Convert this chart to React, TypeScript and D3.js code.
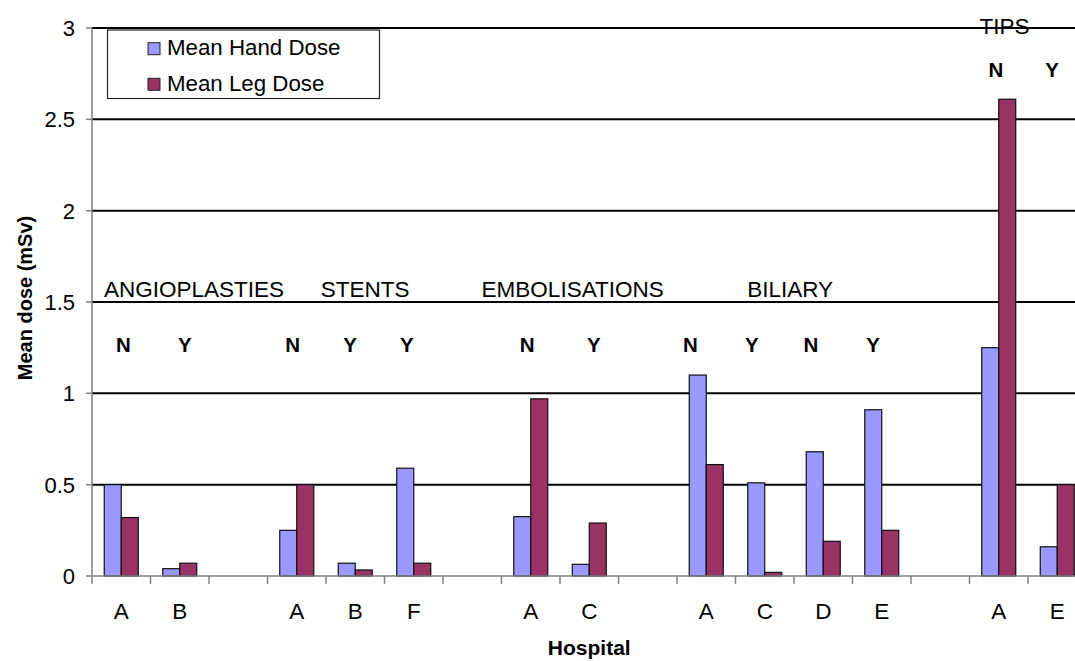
import React from "react";
import * as d3 from "d3";

const hospitals = ["A", "B", "", "A", "B", "F", "", "A", "C", "", "A", "C", "D", "E", "", "A", "E"];
const handDose: (number | null)[] = [0.5, 0.04, null, 0.25, 0.07, 0.59, null, 0.325, 0.064, null, 1.1, 0.51, 0.68, 0.91, null, 1.25, 0.16];
const legDose: (number | null)[] = [0.32, 0.07, null, 0.5, 0.033, 0.07, null, 0.97, 0.29, null, 0.61, 0.02, 0.19, 0.25, null, 2.61, 0.5];
const seriesNames = ["Mean Hand Dose", "Mean Leg Dose"];
const seriesColors = ["#9999FF", "#993366"];
const yTicks = [0, 0.5, 1, 1.5, 2, 2.5, 3];

// procedure group labels: [text, position in slot units, dose level, anchor]
const procLabels: [string, number, number, string][] = [
  ["ANGIOPLASTIES", 0.205, 1.528, "start"],
  ["STENTS", 3.91, 1.528, "start"],
  ["EMBOLISATIONS", 6.66, 1.528, "start"],
  ["BILIARY", 11.2, 1.528, "start"],
  ["TIPS", 15.6, 2.967, "middle"],
];
// N / Y flags: [text, position in slot units, dose level]
const flagLabels: [string, number, number][] = [
  ["N", 0.538, 1.228], ["Y", 1.585, 1.228],
  ["N", 3.43, 1.228], ["Y", 4.41, 1.228], ["Y", 5.38, 1.228],
  ["N", 7.44, 1.228], ["Y", 8.58, 1.228],
  ["N", 10.23, 1.228], ["Y", 11.28, 1.228], ["N", 12.29, 1.228], ["Y", 13.35, 1.228],
  ["N", 15.45, 2.734], ["Y", 16.41, 2.734],
];

const W = 1075, H = 661;
const left = 92, right = 1086.5, top = 28, bottom = 576;
const FONT = "'Liberation Sans', Arial, Helvetica, sans-serif";

export default function App() {
  const keys = hospitals.map((_, i) => String(i));
  const x = d3.scaleBand().domain(keys).range([left, right]).paddingInner(0.419).paddingOuter(0.2095);
  const xs = d3.scaleBand().domain(["hand", "leg"]).range([0, x.bandwidth()]);
  const xLin = d3.scaleLinear().domain([0, hospitals.length]).range([left, right]);
  const y = d3.scaleLinear().domain([0, 3]).range([bottom, top]);
  const step = x.step();
  const axisColor = "#808080";

  const bars: JSX.Element[] = [];
  hospitals.forEach((_, i) => {
    const vals = [handDose[i], legDose[i]];
    vals.forEach((v, s) => {
      if (v == null) return;
      const bx = (x(String(i)) as number) + (xs(s === 0 ? "hand" : "leg") as number);
      bars.push(
        <rect key={`b${i}-${s}`} x={bx} y={y(v)} width={xs.bandwidth()} height={y(0) - y(v)}
          fill={seriesColors[s]} stroke="#111" strokeWidth={1.2} />
      );
    });
  });

  return (
    <svg width={W} height={H} style={{ position: "absolute", left: 0, top: 0, background: "#fff" }} fontFamily={FONT}>
      <rect x={0} y={0} width={W} height={H} fill="#fff" />
      {/* gridlines */}
      {yTicks.filter((t) => t > 0).map((t) => (
        <line key={`g${t}`} x1={left} x2={right} y1={y(t)} y2={y(t)} stroke="#000" strokeWidth={2} />
      ))}
      {/* y axis */}
      <line x1={left} x2={left} y1={top} y2={bottom} stroke={axisColor} strokeWidth={1.5} />
      {yTicks.map((t) => (
        <g key={`yt${t}`}>
          <line x1={left - 6} x2={left} y1={y(t)} y2={y(t)} stroke={axisColor} strokeWidth={1.5} />
          <text x={left - 17} y={y(t)} dy="0.36em" textAnchor="end" fontSize={22} fill="#000">{String(t)}</text>
        </g>
      ))}
      {/* bars */}
      {bars}
      {/* x axis */}
      <line x1={left} x2={right} y1={bottom} y2={bottom} stroke={axisColor} strokeWidth={1.5} />
      {d3.range(hospitals.length + 1).map((i) => (
        <line key={`xt${i}`} x1={left + i * step} x2={left + i * step} y1={bottom} y2={bottom + 8} stroke={axisColor} strokeWidth={1.5} />
      ))}
      {hospitals.map((h, i) => (
        <text key={`xl${i}`} x={(x(String(i)) as number) + x.bandwidth() / 2} y={619} textAnchor="middle" fontSize={22.5} fill="#000">{h}</text>
      ))}
      {/* annotations */}
      {procLabels.map(([t, p, v, a]) => (
        <text key={`p${t}`} x={xLin(p)} y={y(v)} textAnchor={a as any} fontSize={22.5} fill="#000">{t}</text>
      ))}
      {flagLabels.map(([t, p, v], i) => (
        <text key={`f${i}`} x={xLin(p)} y={y(v)} textAnchor="middle" fontSize={20.5} fontWeight="bold" fill="#000">{t}</text>
      ))}
      {/* legend */}
      <rect x={107.5} y={30} width={272} height={68.5} fill="#fff" stroke="#222" strokeWidth={1.2} />
      {seriesNames.map((n, i) => (
        <g key={`lg${i}`} transform={`translate(148, ${42.7 + i * 35.6})`}>
          <rect x={0} y={0} width={12} height={12} fill={seriesColors[i]} stroke="#222" strokeWidth={1} />
          <text x={19} y={12.6} fontSize={22.3} fill="#000">{n}</text>
        </g>
      ))}
      {/* axis titles */}
      <text x={(left + right) / 2 + 0} y={655} textAnchor="middle" fontSize={21} fontWeight="bold" fill="#000">Hospital</text>
      <text transform={`translate(31.5, ${(top + bottom) / 2 - 4}) rotate(-90)`} textAnchor="middle" fontSize={20} fontWeight="bold" fill="#000">Mean dose (mSv)</text>
    </svg>
  );
}
